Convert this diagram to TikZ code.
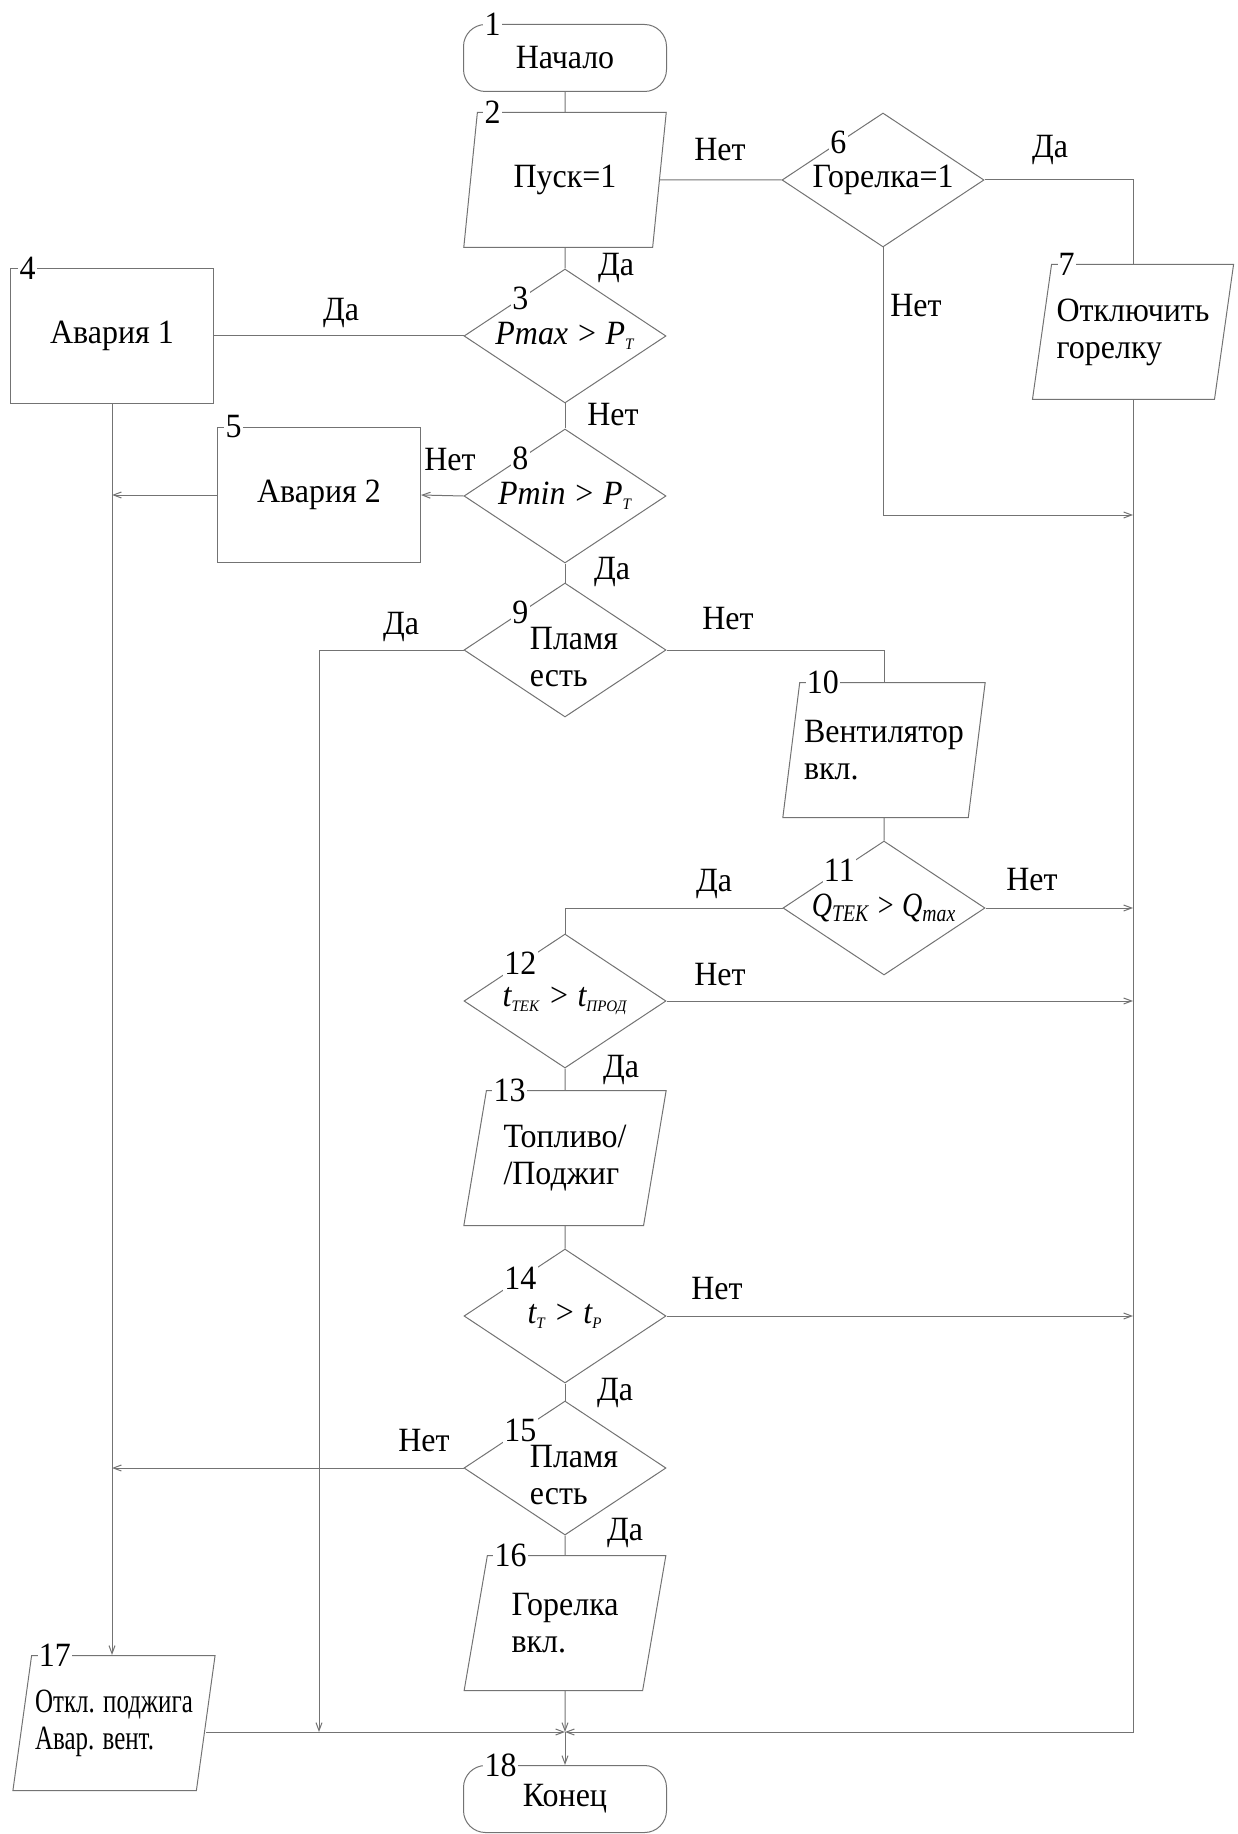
\documentclass[tikz,border=0pt]{standalone}
\usepackage{fontspec}
\setmainfont{Liberation Serif}[FakeStretch=.94]
\usepackage{graphicx}
\usetikzlibrary{shapes.geometric,arrows.meta,calc}

\begin{document}
\begin{tikzpicture}[x=.5pt,y=-.5pt,>={Straight Barb[length=4pt,width=3pt]},
    font=\fontsize{17}{18.5}\selectfont,
    lin/.style={draw=black!55,line width=.5pt},
    nachkon/.style={lin,rectangle,rounded corners=11pt,minimum width=101.5pt,minimum height=33.5pt},
    blok/.style={lin,rectangle,minimum width=101.5pt,minimum height=67.5pt},
    paral/.style={lin,trapezium,trapezium left angle=75,trapezium right angle=105,trapezium stretches=true,
        minimum width=101.5pt,minimum height=67.5pt,inner sep=0pt,align=left},
    romb/.style={lin,diamond,aspect=1.5,minimum width=101pt,minimum height=67pt,inner sep=0pt,align=left},
    nomer/.style={fill=white,inner sep=.6pt},
    metka/.style={inner sep=0pt}]
    \useasboundingbox (0,0) rectangle (1237,1834);
    \def\sub#1{\textsubscript{\fontsize{8}{9}\selectfont #1}}
    % блоки
    \node[nachkon] (nachalo) at (565,58) {Начало};
    \node[paral] (p2) at (565,180) {Пуск=1};
    \node[romb] (d3) at (565,336) {\itshape Pmax > P\sub{Т}};
    \node[romb] (d6) at (883,180) {Горелка=1};
    \node[paral] (p7) at (1133,332) {Отключить\\горелку};
    \node[blok] (b4) at (112,336) {Авария 1};
    \node[blok] (b5) at (319,495) {Авария 2};
    \node[romb] (d8) at (565,496) {\itshape Pmin > P\sub{Т}};
    \node[romb] (d9) at (565,650) {};
    \node[align=left,inner sep=0pt] (t9) at ([xshift=4.5pt,yshift=-3.5pt]d9) {Пламя\\есть};
    \node[paral] (p10) at (884,750) {Вентилятор\\вкл.};
    \node[romb] (d11) at (884,908) {\scalebox{.88}[1]{\itshape Q\textsubscript{ТЕК} > Q\textsubscript{max}}};
    \node[romb] (d12) at (565,1001) {\itshape t\sub{ТЕК} > t\sub{ПРОД}};
    \node[paral] (p13) at (565,1158) {Топливо/\\/Поджиг};
    \node[romb] (d14) at (565,1316) {\itshape t\sub{Т} > t\sub{Р}};
    \node[romb] (d15) at (565,1468) {};
    \node[align=left,inner sep=0pt] (t15) at ([xshift=4.5pt,yshift=-3.5pt]d15) {Пламя\\есть};
    \node[paral] (p16) at (565,1623) {Горелка\\вкл.};
    \node[paral] (p17) at (114,1723) {\scalebox{.78}[1]{Откл. поджига}\\\scalebox{.78}[1]{Авар. вент.}};
    \node[nachkon] (konec) at (565,1799) {Конец};
    % номера блоков
    \node[nomer,anchor=west] (n1) at ([xshift=10pt]nachalo.north west) {1};
    \node[nomer,anchor=west] (n18) at ([xshift=10pt]konec.north west) {18};
    \node[nomer,anchor=west] (n4) at ([xshift=4pt]b4.north west) {4};
    \node[nomer,anchor=west] (n5) at ([xshift=3.5pt]b5.north west) {5};
    \foreach \n/\k in {p2/2,p7/7,p10/10,p13/13,p16/16,p17/17}
        \node[nomer,anchor=west] (n\k) at ([xshift=3pt]\n.top left corner) {\k};
    \foreach \n/\k in {d3/3,d6/6,d8/8,d9/9,d11/11,d12/12,d14/14,d15/15}
        \node[nomer] (n\k) at ($(\n.west)!.56!(\n.north)$) {\k};
    % точки на линиях
    \coordinate (r1) at (1133,515);
    \coordinate (sredn) at (319,1732);
    \coordinate (uzel) at (565,1732);
    % связи
    \draw[lin] (nachalo.south) -- (p2.north);
    \draw[lin] (p2.south) -- (d3.north);
    \draw[lin] (p2.east) -- (d6.west);
    \draw[lin] (d6.east) -| (p7.north);
    \draw[lin,->] (d6.south) |- (r1);
    \draw[lin,->] (p7.south) |- (uzel);
    \draw[lin] (d3.west) -- (b4.east);
    \draw[lin] (d3.south) -- (d8.north);
    \draw[lin,->] (d8.west) -- (b5.east);
    \draw[lin,->] (b5.west) -- (b5.west -| b4.south);
    \draw[lin,->] (b4.south) -- (b4.south |- p17.north);
    \draw[lin] (d8.south) -- (d9.north);
    \draw[lin,->] (d9.west) -| (sredn);
    \draw[lin] (d9.east) -| (p10.north);
    \draw[lin] (p10.south) -- (d11.north);
    \draw[lin,->] (d11.east) -- (d11.east -| p7.south);
    \draw[lin] (d11.west) -| (d12.north);
    \draw[lin,->] (d12.east) -- (d12.east -| p7.south);
    \draw[lin] (d12.south) -- (p13.north);
    \draw[lin] (p13.south) -- (d14.north);
    \draw[lin,->] (d14.east) -- (d14.east -| p7.south);
    \draw[lin] (d14.south) -- (d15.north);
    \draw[lin,->] (d15.west) -- (d15.west -| b4.south);
    \draw[lin] (d15.south) -- (p16.north);
    \draw[lin,->] (p16.south) -- (uzel);
    \draw[lin,->] (p17.east |- uzel) -- (uzel);
    \draw[lin,->] (uzel) -- (konec.north);
    % Да / Нет
    \node[metka] (m1) at (616,268) {Да};
    \node[metka] (m2) at (720,150) {Нет};
    \node[metka] (m3) at (1050,150) {Да};
    \node[metka] (m4) at (916,306) {Нет};
    \node[metka] (m5) at (341,313) {Да};
    \node[metka] (m6) at (613,415) {Нет};
    \node[metka] (m7) at (450,460) {Нет};
    \node[metka] (m8) at (612,572) {Да};
    \node[metka] (m9) at (401,627) {Да};
    \node[metka] (m10) at (728,619) {Нет};
    \node[metka] (m11) at (1032,880) {Нет};
    \node[metka] (m12) at (714,884) {Да};
    \node[metka] (m13) at (720,975) {Нет};
    \node[metka] (m14) at (621,1070) {Да};
    \node[metka] (m15) at (717,1289) {Нет};
    \node[metka] (m16) at (615,1393) {Да};
    \node[metka] (m17) at (424,1441) {Нет};
    \node[metka] (m18) at (625,1533) {Да};
\end{tikzpicture}
\end{document}
